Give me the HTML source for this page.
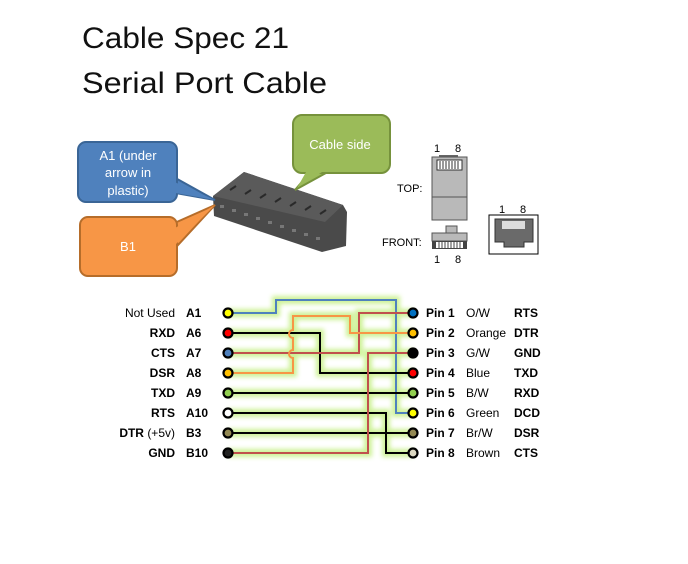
<!DOCTYPE html>
<html><head><meta charset="utf-8"><style>
html,body{margin:0;padding:0;background:#fff;}
svg{display:block;}
</style></head><body>
<svg width="688" height="564" viewBox="0 0 688 564" xmlns="http://www.w3.org/2000/svg" font-family="Liberation Sans, sans-serif">
<defs>
<filter id="glow" x="-20%" y="-20%" width="140%" height="140%"><feGaussianBlur stdDeviation="2.5"/></filter>
</defs>
<text x="82" y="48" font-size="30" fill="#111" textLength="207" lengthAdjust="spacingAndGlyphs">Cable Spec 21</text>
<text x="82" y="93" font-size="30" fill="#111" textLength="245" lengthAdjust="spacingAndGlyphs">Serial Port Cable</text>

<!-- connector -->
<polygon points="213,196 244,172 343,205 347,212 346,246 322,252 214,216" fill="#4a4a4a"/>
<polygon points="213,196 244,172 343,205 325,222" fill="#5a5a5a"/>
<g stroke="#2a2a2a" stroke-width="2">
<line x1="230" y1="190" x2="236" y2="186"/><line x1="245" y1="194" x2="251" y2="190"/><line x1="260" y1="198" x2="266" y2="194"/><line x1="275" y1="202" x2="281" y2="198"/><line x1="290" y1="206" x2="296" y2="202"/><line x1="305" y1="210" x2="311" y2="206"/><line x1="320" y1="214" x2="326" y2="210"/>
</g>
<g fill="#777">
<rect x="220" y="205" width="4" height="3"/><rect x="232" y="209" width="4" height="3"/><rect x="244" y="213" width="4" height="3"/><rect x="256" y="217" width="4" height="3"/><rect x="268" y="221" width="4" height="3"/><rect x="280" y="225" width="4" height="3"/><rect x="292" y="229" width="4" height="3"/><rect x="304" y="233" width="4" height="3"/><rect x="316" y="237" width="4" height="3"/>
</g>

<!-- callouts -->
<polygon points="170,175 215,200 170,192" fill="#4f81bd" stroke="#3a6596" stroke-width="2"/>
<rect x="78" y="142" width="99" height="60" rx="8" fill="#4f81bd" stroke="#3a6596" stroke-width="2"/>
<polygon points="170,180 170,192 215,200" fill="#4f81bd"/>
<text fill="#fff" font-size="13" text-anchor="middle"><tspan x="128" y="160">A1 (under</tspan><tspan x="128" y="177">arrow in</tspan><tspan x="128" y="195">plastic)</tspan></text>
<polygon points="170,225 215,205 178,245" fill="#f79646" stroke="#b66d2a" stroke-width="2"/>
<rect x="80" y="217" width="97" height="59" rx="8" fill="#f79646" stroke="#b66d2a" stroke-width="2"/>
<polygon points="175,228 215,205 176,244" fill="#f79646"/>
<text x="128" y="251" fill="#fff" font-size="13" text-anchor="middle">B1</text>
<polygon points="312,170 295,190 335,168" fill="#9bbb59" stroke="#76923c" stroke-width="2"/>
<rect x="293" y="115" width="97" height="58" rx="9" fill="#9bbb59" stroke="#76923c" stroke-width="2"/>
<polygon points="310,165 297,188 333,165" fill="#9bbb59"/>
<text x="340" y="149" fill="#fff" font-size="13" text-anchor="middle">Cable side</text>

<!-- RJ45 -->
<g font-size="11" fill="#000">
<text x="434" y="152">1</text><text x="455" y="152">8</text>
<text x="397" y="192">TOP:</text>
<text x="382" y="246">FRONT:</text>
<text x="434" y="263">1</text><text x="455" y="263">8</text>
<text x="499" y="213">1</text><text x="520" y="213">8</text>
</g>
<rect x="439" y="155" width="19" height="3" fill="#666"/>
<rect x="432" y="157" width="35" height="63" fill="#b9b9b9" stroke="#555" stroke-width="1"/>
<line x1="432" y1="197" x2="467" y2="197" stroke="#555"/>
<rect x="437" y="160" width="25" height="10" fill="#fff" stroke="#333"/>
<g stroke="#333" stroke-width="1"><line x1="440" y1="161" x2="440" y2="169"/><line x1="443" y1="161" x2="443" y2="169"/><line x1="446" y1="161" x2="446" y2="169"/><line x1="449" y1="161" x2="449" y2="169"/><line x1="452" y1="161" x2="452" y2="169"/><line x1="455" y1="161" x2="455" y2="169"/><line x1="458" y1="161" x2="458" y2="169"/></g>
<rect x="446" y="226" width="11" height="7" fill="#b9b9b9" stroke="#555"/>
<rect x="432" y="233" width="35" height="8" fill="#b9b9b9" stroke="#555"/>
<rect x="432" y="241" width="35" height="8" fill="#444"/>
<rect x="436" y="242" width="27" height="6" fill="#fff"/>
<g stroke="#444"><line x1="439" y1="242" x2="439" y2="248"/><line x1="442" y1="242" x2="442" y2="248"/><line x1="445" y1="242" x2="445" y2="248"/><line x1="448" y1="242" x2="448" y2="248"/><line x1="451" y1="242" x2="451" y2="248"/><line x1="454" y1="242" x2="454" y2="248"/><line x1="457" y1="242" x2="457" y2="248"/><line x1="460" y1="242" x2="460" y2="248"/></g>
<rect x="489" y="215" width="49" height="39" fill="#fff" stroke="#000"/>
<polygon points="495,219 533,219 533,242 524,242 524,247 504,247 504,242 495,242" fill="#6a6a6a" stroke="#333"/>
<rect x="502" y="221" width="23" height="8" fill="#ddd"/>

<!-- glow -->
<g filter="url(#glow)" stroke="#c8f08a" stroke-width="8" fill="none" opacity="0.9">
<polyline points="228,313 276,313 276,300 396,300 396,413 413,413"/>
<polyline points="228,333 320,333 320,373 413,373"/>
<polyline points="228,353 359,353 359,313 413,313"/>
<polyline points="228,373 293,373 293,316 350,316 350,333 413,333"/>
<polyline points="228,393 413,393"/>
<polyline points="228,413 386,413 386,453 413,453"/>
<polyline points="228,433 413,433"/>
<polyline points="228,453 368,453 368,353 413,353"/>
</g>
<!-- wires -->
<g fill="none" stroke-width="2">
<polyline points="228,313 276,313 276,300 396,300 396,413 413,413" stroke="#4f81bd"/>
<polyline points="228,333 320,333 320,373 413,373" stroke="#000"/>
<polyline points="228,353 359,353 359,313 413,313" stroke="#c0504d"/>
<path d="M228,373 H293 V358 a4,4 0 0 1 0,-8 V338 a4,4 0 0 1 0,-8 V316 H350 V333 H413" stroke="#f79646"/>
<polyline points="228,393 413,393" stroke="#000"/>
<polyline points="228,413 386,413 386,453 413,453" stroke="#000"/>
<polyline points="228,433 413,433" stroke="#000"/>
<polyline points="228,453 368,453 368,353 413,353" stroke="#c0504d"/>
</g>
<!-- terminals -->
<g stroke="#000" stroke-width="2.2">
<circle cx="228" cy="313" r="4.5" fill="#ffff00"/>
<circle cx="228" cy="333" r="4.5" fill="#ff0000"/>
<circle cx="228" cy="353" r="4.5" fill="#4f81bd"/>
<circle cx="228" cy="373" r="4.5" fill="#ffc000"/>
<circle cx="228" cy="393" r="4.5" fill="#92d050"/>
<circle cx="228" cy="413" r="4.5" fill="#fff"/>
<circle cx="228" cy="433" r="4.5" fill="#938953"/>
<circle cx="228" cy="453" r="4.5" fill="#222"/>
<circle cx="413" cy="313" r="4.5" fill="#0070c0"/>
<circle cx="413" cy="333" r="4.5" fill="#ffc000"/>
<circle cx="413" cy="353" r="4.5" fill="#000"/>
<circle cx="413" cy="373" r="4.5" fill="#ff0000"/>
<circle cx="413" cy="393" r="4.5" fill="#92d050"/>
<circle cx="413" cy="413" r="4.5" fill="#ffff00"/>
<circle cx="413" cy="433" r="4.5" fill="#938953"/>
<circle cx="413" cy="453" r="4.5" fill="#ddd9c3"/>
</g>
<!-- labels -->
<g font-size="12" fill="#000">
<g text-anchor="end">
<text x="175" y="317">Not Used</text><text x="175" y="337" font-weight="bold">RXD</text><text x="175" y="357" font-weight="bold">CTS</text><text x="175" y="377" font-weight="bold">DSR</text><text x="175" y="397" font-weight="bold">TXD</text><text x="175" y="417" font-weight="bold">RTS</text><text x="175" y="437" font-weight="bold">DTR <tspan font-weight="normal">(+5v)</tspan></text><text x="175" y="457" font-weight="bold">GND</text>
</g>
<g font-weight="bold">
<text x="186" y="317">A1</text><text x="186" y="337">A6</text><text x="186" y="357">A7</text><text x="186" y="377">A8</text><text x="186" y="397">A9</text><text x="186" y="417">A10</text><text x="186" y="437">B3</text><text x="186" y="457">B10</text>
<text x="426" y="317">Pin 1</text><text x="426" y="337">Pin 2</text><text x="426" y="357">Pin 3</text><text x="426" y="377">Pin 4</text><text x="426" y="397">Pin 5</text><text x="426" y="417">Pin 6</text><text x="426" y="437">Pin 7</text><text x="426" y="457">Pin 8</text>
<text x="514" y="317">RTS</text><text x="514" y="337">DTR</text><text x="514" y="357">GND</text><text x="514" y="377">TXD</text><text x="514" y="397">RXD</text><text x="514" y="417">DCD</text><text x="514" y="437">DSR</text><text x="514" y="457">CTS</text>
</g>
<text x="466" y="317">O/W</text><text x="466" y="337">Orange</text><text x="466" y="357">G/W</text><text x="466" y="377">Blue</text><text x="466" y="397">B/W</text><text x="466" y="417">Green</text><text x="466" y="437">Br/W</text><text x="466" y="457">Brown</text>
</g>
</svg>
</body></html>
